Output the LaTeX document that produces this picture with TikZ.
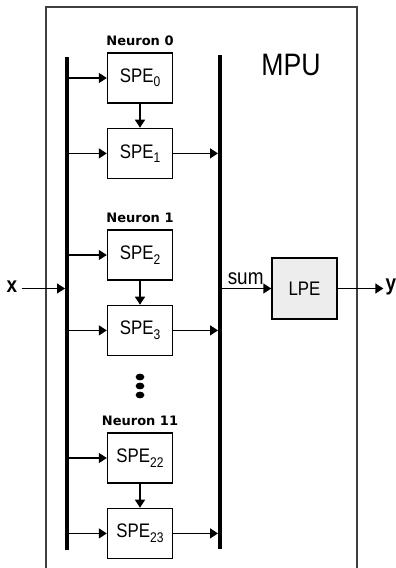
\documentclass[tikz,border=0pt]{standalone}
\usepackage{fontspec}
\setmainfont{Liberation Sans}[FakeStretch=0.86]
\newfontfamily\neuronfont{DejaVu Sans}
\usetikzlibrary{arrows.meta,positioning}

\newcommand\spesub[1]{\raisebox{-2.2pt}{\fontsize{7}{8}\selectfont #1}}

\tikzset{
  spebox/.style={draw, line width=0.7pt, minimum width=32.5pt, minimum height=25pt,
    inner sep=0pt, font=\fontsize{9.8}{11}\selectfont},
  lpebox/.style={spebox, fill=black!7, minimum height=30.5pt},
  neuronlabel/.style={inner sep=0pt, font=\neuronfont\bfseries\fontsize{6.5}{7}\selectfont},
  bus/.style={line width=2pt},
  link/.style={line width=0.7pt, -{Triangle[length=4pt,width=5pt]}},
}

\begin{document}
\begin{tikzpicture}[x=0.5pt,y=-0.5pt]
  \useasboundingbox (0,0) rectangle (396,568);

  % MPU frame (bottom edge runs off the page)
  \draw[black!75, line width=0.6pt] (46,572) -- (46,7) -- (357,7) -- (357,572);
  \node (mpu) at (291,65) {\fontsize{15.5}{18}\selectfont MPU};

  % input and output buses
  \coordinate (bl) at (67,57);
  \coordinate (blb) at (67,550);
  \coordinate (br) at (220,55);
  \coordinate (brb) at (220,549);
  \draw[bus] (bl) -- (blb);
  \draw[bus] (br) -- (brb);

  % neurons, two SPEs each
  \foreach \n/\a/\b/\y in {0/0/1/78,1/2/3/255,11/22/23/458} {
    \node[spebox] (spe\a) at (140,\y) {SPE\spesub{\a}};
    \node[spebox, below=12pt of spe\a] (spe\b) {SPE\spesub{\b}};
    \node[neuronlabel, above=3pt of spe\a] (n\n) {Neuron \n};
    \draw[link] (bl |- spe\a.west) -- (spe\a.west);
    \draw[link] (bl |- spe\b.west) -- (spe\b.west);
    \draw[link] (spe\a) -- (spe\b);
    \draw[link, shorten >=1pt] (spe\b.east) -- (br |- spe\b.east);
  }

  % vertical dots
  \foreach \d in {377,386,395}
    \fill (140,\d) ellipse [x radius=2.2pt, y radius=1.7pt];

  % LPE
  \node[lpebox] (lpe) at (304.5,288.5) {LPE};
  \node[inner sep=2pt] (xin) at (12,287) {\fontsize{11}{12}\selectfont\bfseries x};
  \node[inner sep=1pt] (yout) at (391,287) {\fontsize{11}{12}\selectfont\bfseries y};
  \draw[link, shorten >=1pt] (xin.east |- lpe) -- (bl |- lpe);
  \draw[link] (lpe.west -| br) -- node[above, inner sep=1.5pt, font=\fontsize{11}{12}\selectfont] (sum) {sum} (lpe.west);
  \draw[link] (lpe) -- (yout.west |- lpe);
\end{tikzpicture}
\end{document}
